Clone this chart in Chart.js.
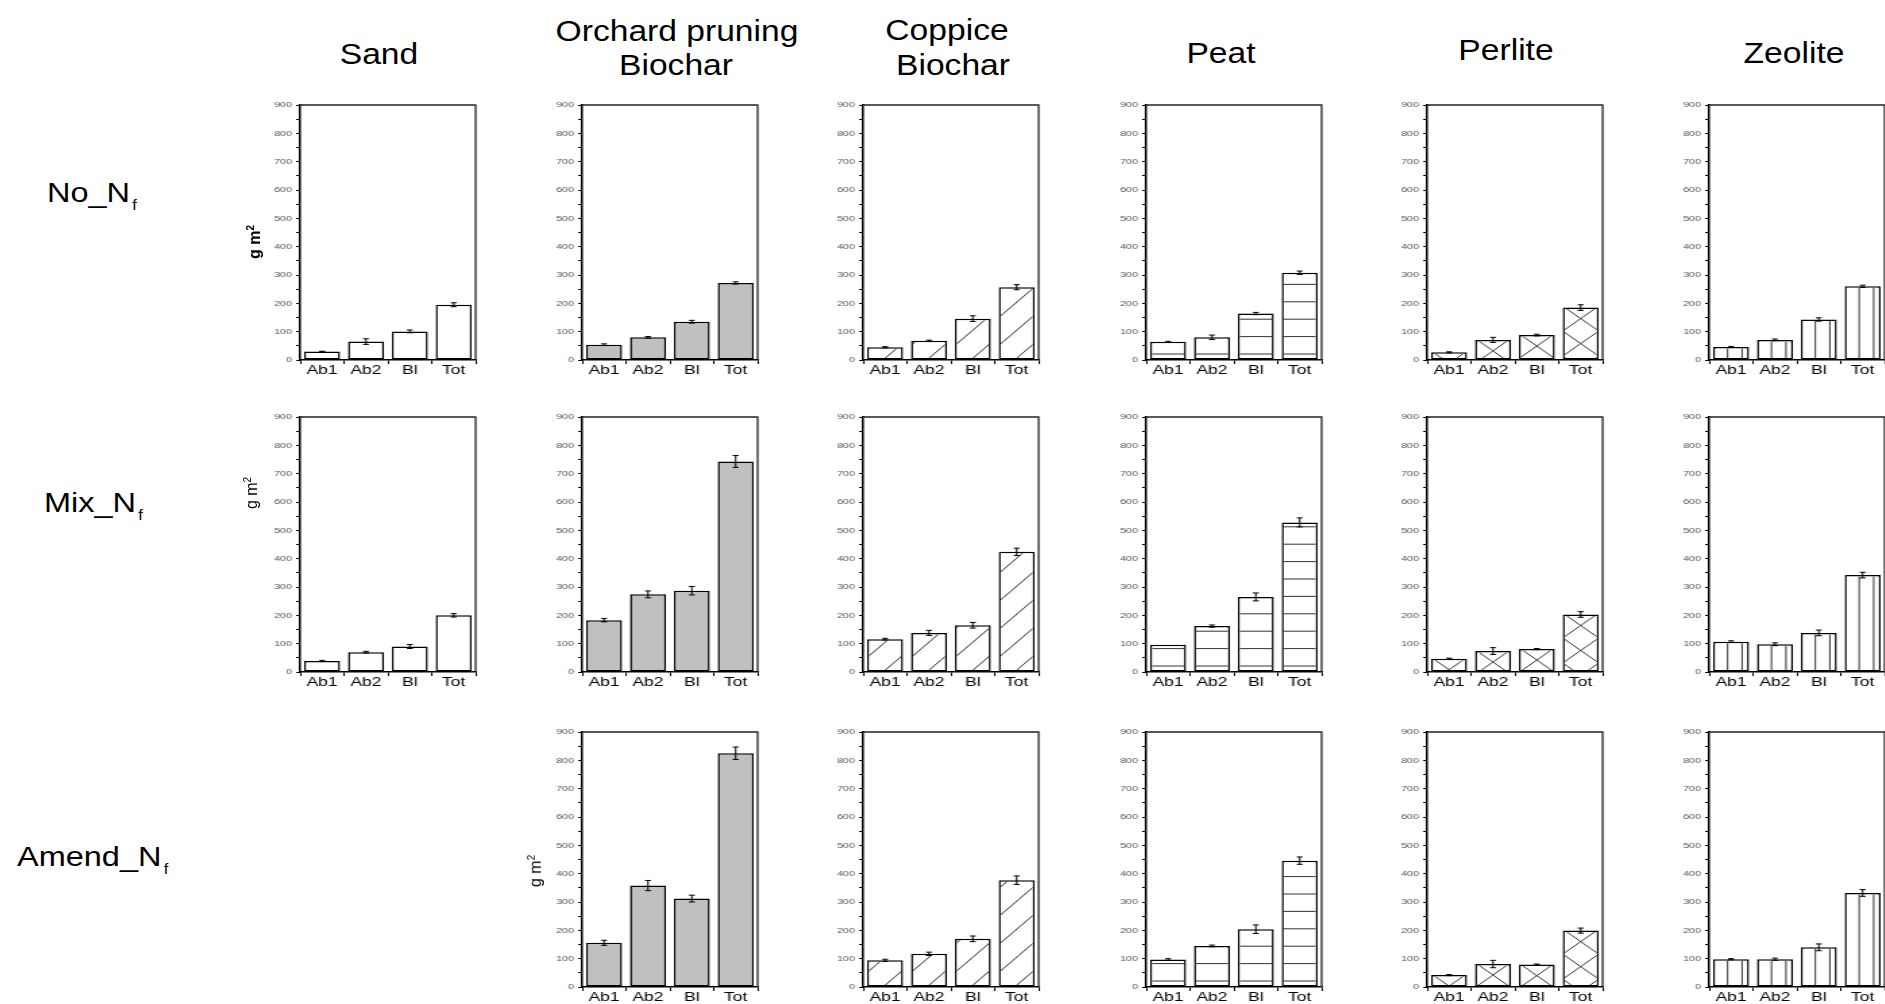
<!DOCTYPE html>
<html>
<head>
<meta charset="utf-8">
<script src="https://cdn.jsdelivr.net/npm/chart.js@4.4.1/dist/chart.umd.min.js"></script>
<style>
html, body { margin:0; padding:0; background:#fff; overflow:hidden; width:1885px; height:1004px; }
body { position:relative; font-family:"Liberation Sans", Arial, sans-serif; color:#000; }
.hdr { position:absolute; font-size:30px; line-height:30px; white-space:nowrap; transform:translate(-50%,-50%) scaleX(1.12); }
.row { position:absolute; font-size:28px; line-height:28px; white-space:nowrap; transform:scaleX(1.16); transform-origin:0 0; }
.row sub { font-size:14px; vertical-align:baseline; position:relative; top:8px; margin-left:2px; }
.ytitle { position:absolute; font-size:16px; line-height:16px; white-space:nowrap; transform:translate(-50%,-50%) rotate(-90deg); }
.ytitle sup { font-size:10px; }
canvas { position:absolute; }
</style>
</head>
<body>
<script>
// categories and labels
const categories = ['Ab1', 'Ab2', 'Bl', 'Tot'];
const headerLines = [['Sand', 379, 54], ['Orchard pruning', 677, 31], ['Biochar', 676, 65],
	['Coppice', 947, 30], ['Biochar', 953, 65], ['Peat', 1221, 53], ['Perlite', 1506, 50], ['Zeolite', 1794, 53]];
const rowLabels = ['No_N', 'Mix_N', 'Amend_N'];
const yTitle = 'g m';

// values (g m-2) and error bars
const sandNo = [30, 65, 101, 195];       const sandNoErr = [1, 10, 5, 7];
const sandMix = [39, 70, 90, 200];       const sandMixErr = [2, 3, 7, 6];

const orchardNo = [54, 80, 135, 272];    const orchardNoErr = [3, 3, 5, 4];
const orchardMix = [183, 274, 287, 743]; const orchardMixErr = [6, 12, 15, 21];
const orchardAm = [156, 358, 312, 825];  const orchardAmErr = [9, 18, 12, 22];

const coppiceNo = [45, 68, 146, 257];    const coppiceNoErr = [2, 2, 10, 9];
const coppiceMix = [116, 138, 165, 424]; const coppiceMixErr = [3, 9, 10, 13];
const coppiceAm = [94, 117, 170, 377];   const coppiceAmErr = [4, 6, 10, 15];

const peatNo = [64, 80, 164, 308];       const peatNoErr = [2, 8, 4, 6];
const peatMix = [96, 162, 265, 528];     const peatMixErr = [0, 4, 14, 16];
const peatAm = [97, 145, 204, 446];      const peatAmErr = [3, 3, 15, 13];

const perliteNo = [27, 71, 88, 185];     const perliteNoErr = [2, 9, 3, 10];
const perliteMix = [47, 74, 81, 203];    const perliteMixErr = [2, 12, 2, 10];
const perliteAm = [42, 81, 79, 199];     const perliteAmErr = [2, 13, 2, 9];

const zeoliteNo = [46, 71, 143, 260];    const zeoliteNoErr = [2, 3, 6, 4];
const zeoliteMix = [107, 98, 138, 342];  const zeoliteMixErr = [3, 5, 10, 10];
const zeoliteAm = [98, 98, 140, 332];    const zeoliteAmErr = [2, 4, 12, 12];

// layout
const colX = [300, 582, 863, 1146, 1427, 1709];
const rowY = [105, 417, 732];
const fills = ['#ffffff', '#c0c0c0', '#ffffff', '#ffffff', '#ffffff', '#ffffff'];
const hatches = [null, null, 'diag', 'horiz', 'cross', 'vert'];
const titlePos = [[253, 242, true], [250, 493, false], [534, 871, false]];

const panels = [
	[0, 0, sandNo, sandNoErr], [0, 1, sandMix, sandMixErr],
	[1, 0, orchardNo, orchardNoErr], [1, 1, orchardMix, orchardMixErr], [1, 2, orchardAm, orchardAmErr],
	[2, 0, coppiceNo, coppiceNoErr], [2, 1, coppiceMix, coppiceMixErr], [2, 2, coppiceAm, coppiceAmErr],
	[3, 0, peatNo, peatNoErr], [3, 1, peatMix, peatMixErr], [3, 2, peatAm, peatAmErr],
	[4, 0, perliteNo, perliteNoErr], [4, 1, perliteMix, perliteMixErr], [4, 2, perliteAm, perliteAmErr],
	[5, 0, zeoliteNo, zeoliteNoErr], [5, 1, zeoliteMix, zeoliteMixErr], [5, 2, zeoliteAm, zeoliteAmErr]
];

// the original figure is stretched sideways, so canvases are drawn narrow and widened by css
const S = 1.35, AX = 52, AW = 130, RP = 4, TP = 10, XH = 30, AH = 255;
const W = AX + AW + RP, H = TP + AH + XH;

Chart.defaults.font.family = '"Liberation Sans", Arial, sans-serif';

function drawHatch(ctx, kind, l, r, t, b){
	const w = r - l;
	ctx.beginPath();
	if(kind === 'horiz'){
		for(let y = b - 5.5; y > t; y -= 17.4){ ctx.moveTo(l, y); ctx.lineTo(r, y); }
	} else if(kind === 'vert'){
		const dx = 14.5 / S;
		for(let x = l + dx; x < r - 1; x += dx){ ctx.moveTo(x, t); ctx.lineTo(x, b); }
	} else if(kind === 'diag'){
		const m = 0.85 * S, V = 28;
		for(let y0 = b + 14 + 3 * V; y0 > t - V; y0 -= V){ ctx.moveTo(l, y0); ctx.lineTo(r, y0 - m * w); }
	} else if(kind === 'cross'){
		const P = 25, m = P / w, cx = (l + r) / 2;
		for(let yc = t + 11 - P; yc < b + P; yc += P){
			ctx.moveTo(l, yc - m * (cx - l)); ctx.lineTo(r, yc + m * (r - cx));
			ctx.moveTo(l, yc + m * (cx - l)); ctx.lineTo(r, yc - m * (r - cx));
		}
	}
	ctx.stroke();
}

const panelDeco = {
	id: 'panelDeco',
	afterDatasetsDraw(chart, args, opts){
		const ctx = chart.ctx;
		const yScale = chart.scales.y;
		const ds = chart.data.datasets[0];
		chart.getDatasetMeta(0).data.forEach(function(bar, i){
			const p = bar.getProps(['x', 'y', 'base', 'width'], true);
			const l = p.x - p.width / 2, r = p.x + p.width / 2;
			if(opts.hatch){
				ctx.save();
				ctx.beginPath();
				ctx.rect(l + 1.5, p.y + 1.5, p.width - 3, p.base - p.y - 3);
				ctx.clip();
				ctx.strokeStyle = '#333';
				ctx.lineWidth = 1;
				drawHatch(ctx, opts.hatch, l, r, p.y, p.base);
				ctx.restore();
			}
			const e = ds.err[i];
			if(e > 0){
				const y1 = yScale.getPixelForValue(ds.data[i] + e);
				const y2 = yScale.getPixelForValue(ds.data[i] - e);
				const cw = 2.2;
				ctx.save();
				ctx.strokeStyle = '#000';
				ctx.lineWidth = 1;
				ctx.beginPath();
				ctx.moveTo(p.x, y1); ctx.lineTo(p.x, y2);
				ctx.moveTo(p.x - cw, y1); ctx.lineTo(p.x + cw, y1);
				ctx.moveTo(p.x - cw, y2); ctx.lineTo(p.x + cw, y2);
				ctx.stroke();
				ctx.restore();
			}
		});
	},
	afterDraw(chart){
		const ctx = chart.ctx;
		const a = chart.chartArea;
		ctx.save();
		ctx.strokeStyle = '#222';
		ctx.lineWidth = 1.3;
		ctx.beginPath();
		ctx.moveTo(a.left, a.top); ctx.lineTo(a.right, a.top); ctx.lineTo(a.right, a.bottom);
		ctx.stroke();
		ctx.restore();
	}
};

panels.forEach(function(pn){
	const col = pn[0], row = pn[1];
	const c = document.createElement('canvas');
	c.width = W; c.height = H;
	c.style.width = (W * S) + 'px';
	c.style.height = H + 'px';
	c.style.left = (colX[col] - AX * S) + 'px';
	c.style.top = (rowY[row] - TP) + 'px';
	document.body.appendChild(c);
	new Chart(c, {
		type: 'bar',
		data: {
			labels: categories,
			datasets: [{
				data: pn[2],
				err: pn[3],
				backgroundColor: fills[col],
				borderColor: '#000',
				borderWidth: 1.5,
				borderSkipped: false,
				barPercentage: 0.82,
				categoryPercentage: 1
			}]
		},
		options: {
			responsive: false,
			animation: false,
			devicePixelRatio: 1,
			layout: { padding: { top: TP, right: RP, left: 0, bottom: 0 } },
			plugins: { legend: { display: false }, tooltip: { enabled: false }, panelDeco: { hatch: hatches[col] } },
			scales: {
				x: {
					grid: { offset: true, drawOnChartArea: false, tickLength: 4, color: '#000', lineWidth: 1 },
					border: { color: '#000', width: 1.5 },
					ticks: { color: '#000', font: { size: 13 }, padding: -1, maxRotation: 0, autoSkip: false },
					afterFit: function(s){ s.height = XH; }
				},
				y: {
					min: 0, max: 900,
					grid: { drawOnChartArea: false, tickLength: 3, color: '#000', lineWidth: 1 },
					border: { color: '#000', width: 1.5 },
					ticks: { stepSize: 50, maxTicksLimit: 20, autoSkip: false, color: '#555', font: { size: 8 }, padding: 3,
						callback: function(v){ return v % 100 === 0 ? v : ''; } },
					afterFit: function(s){ s.width = AX; }
				}
			}
		},
		plugins: [panelDeco]
	});
});

headerLines.forEach(function(h){
	const d = document.createElement('div');
	d.className = 'hdr';
	d.textContent = h[0];
	d.style.left = h[1] + 'px';
	d.style.top = h[2] + 'px';
	document.body.appendChild(d);
});

const rowPos = [[47, 179], [44, 489], [17, 843]];
rowLabels.forEach(function(t, i){
	const d = document.createElement('div');
	d.className = 'row';
	d.innerHTML = t + '<sub>f</sub>';
	d.style.left = rowPos[i][0] + 'px';
	d.style.top = rowPos[i][1] + 'px';
	document.body.appendChild(d);
});

titlePos.forEach(function(tp){
	const d = document.createElement('div');
	d.className = 'ytitle';
	d.innerHTML = yTitle + '<sup>2</sup>';
	d.style.left = tp[0] + 'px';
	d.style.top = tp[1] + 'px';
	if(tp[2]) d.style.fontWeight = 'bold';
	document.body.appendChild(d);
});
</script>
</body>
</html>
